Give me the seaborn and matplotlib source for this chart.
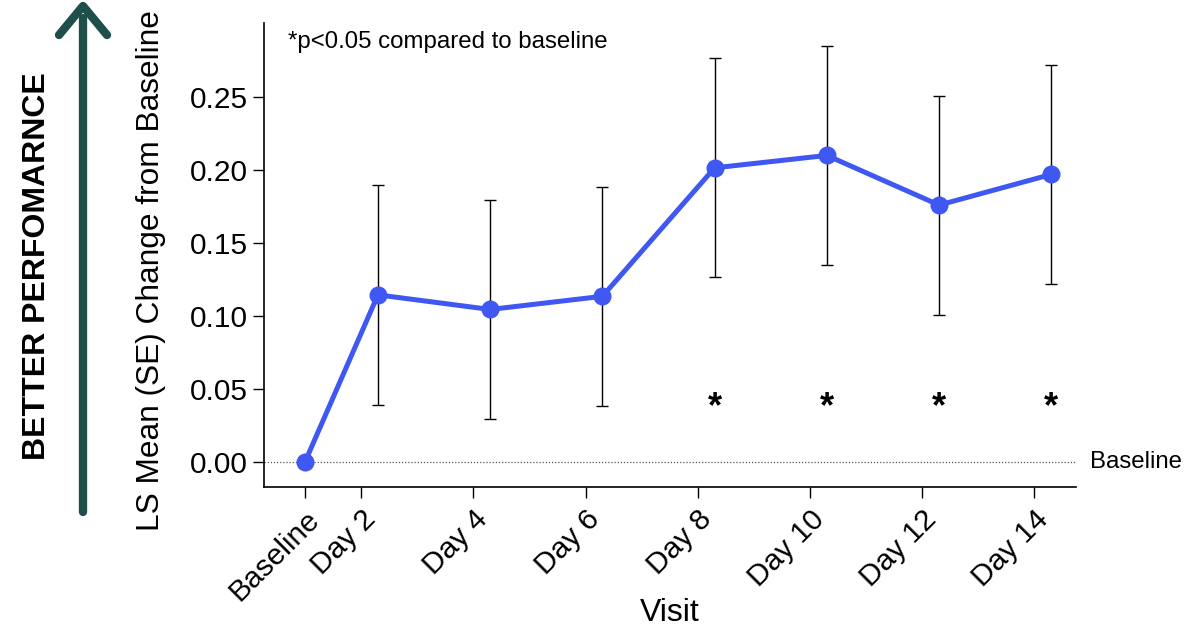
import numpy as np
import pandas as pd
import matplotlib
matplotlib.use('Agg')
import matplotlib.pyplot as plt
import matplotlib.transforms as mtransforms
from matplotlib.lines import Line2D
import seaborn as sns

# Visit labels and nominal study day of each visit (tick positions)
visits = ['Baseline', 'Day 2', 'Day 4', 'Day 6', 'Day 8', 'Day 10', 'Day 12', 'Day 14']
visit_days = [1, 2, 4, 6, 8, 10, 12, 14]
# day at which each LS mean is plotted
plot_days = [1.0, 2.3, 4.3, 6.3, 8.3, 10.3, 12.3, 14.3]
ls_mean = [0.0, 0.1145, 0.1045, 0.1135, 0.2015, 0.210, 0.176, 0.197]
se = [np.nan, 0.0755, 0.075, 0.075, 0.075, 0.075, 0.075, 0.075]
significant = [False, False, False, False, True, True, True, True]
star_level = 0.037

line_color = '#4058F2'
arrow_color = '#1F4F4A'

df = pd.DataFrame({'day': plot_days, 'mean': ls_mean, 'se': se, 'sig': significant})

sns.set_style('ticks')
plt.rcParams['font.family'] = ['Liberation Sans', 'DejaVu Sans']
plt.rcParams.update({'text.color': 'black', 'axes.labelcolor': 'black',
                     'xtick.color': 'black', 'ytick.color': 'black',
                     'axes.edgecolor': 'black'})

fig = plt.figure(figsize=(12.04, 6.3), dpi=100)
ax = fig.add_axes([264 / 1204, 1 - 487 / 630, (1076 - 264) / 1204, (487 - 23) / 630])

# reference line at zero
ax.axhline(0, color='#555555', lw=0.9, ls=(0, (1, 1.5)), zorder=1)

# error bars (SE)
ax.errorbar(df['day'], df['mean'], yerr=df['se'], fmt='none', ecolor='black',
            elinewidth=1.0, capsize=4.5, capthick=1.0, zorder=2)

sns.lineplot(data=df, x='day', y='mean', color=line_color, lw=3.6, marker='o',
             markersize=13, markeredgewidth=0, ax=ax, zorder=3)

# significance stars
for _, row in df[df['sig']].iterrows():
    ax.text(row['day'], star_level, '*', ha='center', va='center',
            fontsize=26, fontweight='bold')

ax.set_xlim(0.27, 14.74)
ax.set_ylim(-0.0171, 0.3007)
ax.set_xticks(visit_days)
ax.set_xticklabels(visits, rotation=45, ha='right', rotation_mode='anchor')
ax.set_yticks([0.0, 0.05, 0.10, 0.15, 0.20, 0.25])
ax.set_yticklabels(['0.00', '0.05', '0.10', '0.15', '0.20', '0.25'])
ax.tick_params(axis='both', labelsize=21.5, length=8, width=1.0, color='black')
ax.tick_params(axis='x', pad=5)
ax.set_xlabel('Visit', fontsize=23)
ax.set_ylabel('LS Mean (SE) Change from Baseline', fontsize=22.8)
ax.xaxis.set_label_coords(0.5, (487 - 598) / 464)
ax.yaxis.set_label_coords((151 - 264) / 812, (487 - 271) / 464)
ax.yaxis.label.set_va('center')
for s in ['left', 'bottom']:
    ax.spines[s].set_linewidth(1.2)
    ax.spines[s].set_color('black')
sns.despine(ax=ax)

ax.text(0.03, 0.959, '*p<0.05 compared to baseline', transform=ax.transAxes,
        fontsize=17.3, va='center', ha='left')
trans = mtransforms.blended_transform_factory(ax.transAxes, ax.transData)
ax.text(1.017, 0, 'Baseline', transform=trans, fontsize=17.3, va='center', ha='left')

# "better performance" arrow on the left
def px(x, y):
    return x / 1204, 1 - y / 630

x0, y0 = px(83, 512)
x1, y1 = px(83, 18)
fig.add_artist(Line2D([x0, x1], [y0, y1], color=arrow_color, lw=6,
                      solid_capstyle='round', transform=fig.transFigure))
(ax_, ay_), (bx_, by_), (cx_, cy_) = px(59, 35), px(83, 6), px(107, 35)
fig.add_artist(Line2D([ax_, bx_, cx_], [ay_, by_, cy_], color=arrow_color, lw=6,
                      solid_capstyle='round', solid_joinstyle='round',
                      transform=fig.transFigure))
tx, ty = px(37, 266)
fig.text(tx, ty, 'BETTER PERFOMARNCE', rotation=90, ha='center', va='center',
         fontsize=23, fontweight='bold')

fig.savefig('out.png', dpi=100)
